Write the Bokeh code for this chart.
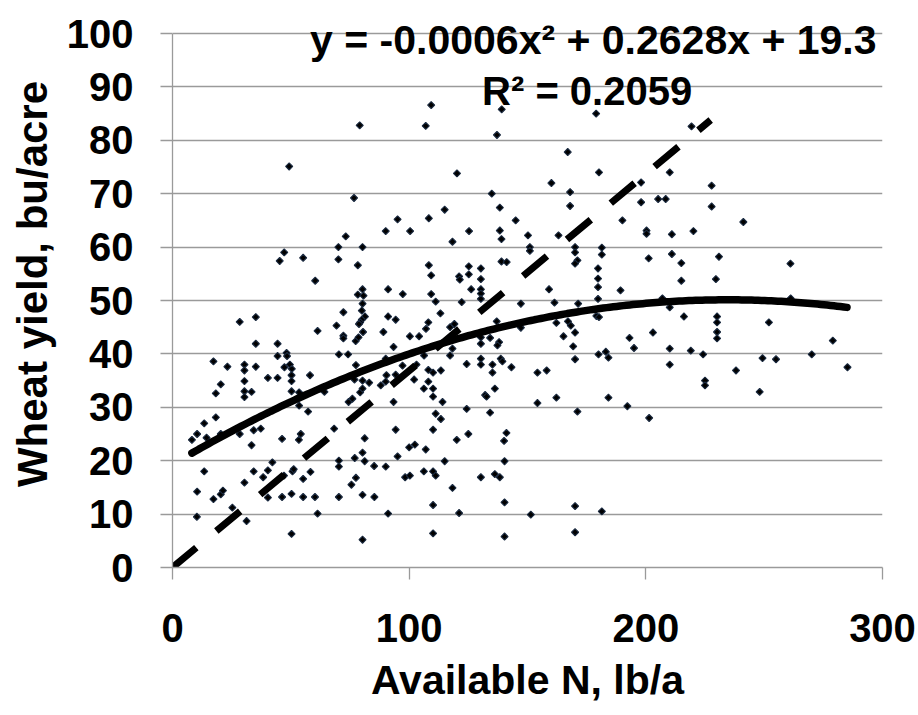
import numpy as np
from bokeh.plotting import figure
from bokeh.models import Label, FixedTicker, Range1d
from bokeh.embed import file_html
from bokeh.resources import INLINE

# ---- data ----
n_avail = [
    49.3, 76.7, 73.2, 70.1, 70.1, 47.2, 45.3, 55.2, 60.3, 78.3,
    79.1, 109.3, 107.0, 139.1, 137.1, 120.2, 134.9, 138.3, 115.0, 95.1,
    108.3, 145.0, 90.1, 100.4, 125.3, 138.3, 139.0, 150.2, 118.3, 80.3,
    151.0, 151.0, 108.3, 109.3, 139.0, 141.2, 121.1, 121.4, 125.2, 125.2,
    130.3, 130.3, 126.2, 130.3, 130.3, 130.3, 80.3, 78.3, 80.7, 91.1,
    97.3, 109.3, 111.2, 122.2, 147.2, 80.3,
    179.0, 219.3, 167.0, 180.2, 210.1, 160.1, 168.0, 198.0, 227.8, 168.0,
    198.0, 205.2, 208.4, 227.8, 190.1, 163.1, 200.3, 200.3, 211.0, 220.1,
    170.1, 170.1, 171.1, 170.1, 181.4, 181.4, 201.2, 211.0, 215.0, 179.8,
    179.8, 179.8, 179.8, 159.1, 161.4, 171.4, 189.3, 215.0, 229.6, 207.0,
    241.2, 230.9, 261.1, 261.2,
    28.4, 35.2, 35.2, 44.4, 44.4, 48.2, 48.4, 47.3, 49.6, 50.4,
    17.3, 23.2, 30.4, 30.4, 35.2, 20.4, 18.3, 30.4, 30.4, 30.4,
    33.4, 40.3, 44.4, 50.3, 50.3, 58.1, 50.3, 53.5, 61.3, 69.3,
    72.2, 72.2, 72.2, 70.3, 74.2, 77.5, 76.9, 74.4, 76.0, 64.2,
    53.5, 57.3, 18.3, 13.4, 10.4, 8.2, 14.4, 20.4, 28.4, 34.3,
    37.3, 33.4, 46.3, 53.4, 54.2, 68.3, 77.0, 70.3, 70.3, 77.5,
    75.6, 13.4, 10.4, 17.3, 20.4, 21.3, 30.4, 34.3, 38.3, 40.3,
    42.2, 47.1, 50.7, 51.2, 55.2, 58.3, 40.3, 46.3, 50.3, 55.2,
    60.2, 70.3, 10.3, 25.3, 31.3, 61.3, 50.3,
    80.0, 81.3, 80.0, 79.3, 78.8, 91.1, 94.3, 108.1, 107.1, 113.2,
    117.3, 119.1, 137.0, 147.2, 89.1, 100.3, 104.2, 80.5, 77.4, 78.6,
    93.4, 106.3, 118.3, 117.3, 130.3, 134.2, 130.3, 138.0, 137.3, 90.1,
    90.4, 94.3, 97.2, 103.1, 102.1, 108.1, 110.1, 113.4, 108.1, 106.2,
    110.1, 110.1, 114.1, 80.3, 83.1, 88.0, 90.1, 79.3, 80.3, 93.4,
    124.3, 130.3, 130.3, 135.2, 135.2, 138.7, 139.4, 143.2, 136.2, 132.1,
    132.7, 124.3, 134.2, 111.2, 113.4, 110.1, 94.3, 81.2, 120.1, 125.0,
    141.1, 140.1, 100.0, 102.4, 107.0, 80.3, 81.2, 95.1, 85.2, 90.1,
    115.0, 140.3, 106.2, 110.1, 111.2, 98.3, 100.3, 130.3, 136.2, 138.3,
    118.3, 80.3, 85.3, 110.1, 140.3, 91.1, 121.1, 151.4, 80.3, 110.1,
    140.3,
    210.1, 216.1, 162.2, 167.1, 168.3, 170.1, 165.2, 169.3, 170.1, 179.1,
    180.2, 180.0, 183.1, 184.2, 193.1, 195.0, 203.0, 210.1, 210.1, 219.0,
    224.2, 225.0, 225.0, 154.2, 158.1, 154.2, 162.2, 171.1, 184.2, 192.2,
    201.4, 170.1, 181.4, 170.1,
    230.1, 230.1, 230.1, 230.1, 252.0, 279.0, 238.1, 249.3, 255.0, 248.1,
    270.1, 285.2,
]
yield_bu = [
    75.1, 69.2, 62.0, 60.0, 57.7, 59.0, 57.4, 58.0, 53.7, 56.6,
    82.8, 86.6, 82.7, 85.8, 81.0, 73.8, 70.0, 67.4, 67.0, 65.2,
    65.4, 65.0, 63.0, 63.0, 63.0, 63.1, 61.5, 62.2, 61.0, 60.0,
    60.0, 59.3, 56.6, 54.7, 57.3, 57.2, 54.5, 53.9, 56.4, 54.9,
    56.0, 54.0, 52.1, 52.1, 51.3, 50.3, 52.1, 51.1, 50.9, 52.1,
    51.2, 51.2, 49.8, 49.7, 49.4, 49.4,
    85.0, 82.6, 77.8, 74.0, 74.0, 72.0, 70.3, 72.1, 71.5, 67.7,
    68.4, 69.0, 69.0, 67.6, 65.0, 62.2, 63.1, 62.5, 62.4, 63.0,
    60.0, 59.0, 57.5, 56.9, 59.9, 58.6, 57.9, 58.7, 57.0, 56.0,
    54.1, 52.5, 50.3, 52.1, 49.6, 49.4, 51.9, 53.7, 54.0, 50.4,
    64.7, 58.2, 56.9, 50.4,
    46.0, 46.9, 41.9, 41.9, 39.6, 40.2, 39.6, 37.5, 38.0, 37.2,
    38.6, 37.6, 38.0, 36.9, 37.6, 34.3, 32.6, 34.9, 33.0, 31.9,
    32.9, 35.5, 35.5, 36.0, 34.9, 36.0, 33.0, 32.8, 44.3, 45.3,
    47.8, 43.4, 42.9, 39.9, 39.9, 37.9, 35.2, 31.0, 31.6, 32.9,
    30.3, 29.2, 28.1, 27.0, 25.0, 23.9, 24.3, 25.0, 25.0, 25.7,
    26.0, 22.9, 24.1, 23.9, 25.0, 26.0, 20.5, 20.0, 18.9, 16.8,
    15.5, 18.0, 14.2, 12.8, 13.7, 14.4, 15.9, 18.0, 16.9, 18.2,
    19.7, 17.2, 18.0, 18.4, 16.6, 17.9, 13.1, 13.2, 13.8, 13.2,
    13.2, 13.2, 9.5, 11.2, 8.7, 10.1, 6.3,
    48.1, 47.0, 46.4, 45.9, 45.6, 47.0, 46.4, 45.9, 44.7, 47.6,
    45.0, 45.6, 46.1, 44.9, 44.1, 43.3, 43.3, 44.1, 42.4, 43.1,
    41.3, 39.7, 41.0, 39.7, 43.1, 43.0, 41.9, 42.2, 41.6, 39.1,
    36.0, 36.1, 37.8, 38.0, 35.2, 37.0, 36.5, 36.9, 34.8, 33.5,
    33.5, 32.0, 31.0, 35.0, 34.6, 34.1, 34.8, 32.8, 33.5, 31.0,
    38.1, 39.1, 38.0, 38.0, 36.5, 39.1, 38.6, 37.5, 33.5, 32.3,
    32.0, 29.7, 29.0, 28.8, 27.8, 25.8, 25.8, 24.2, 23.9, 25.0,
    25.2, 23.7, 22.5, 23.0, 22.1, 21.5, 19.9, 20.8, 19.0, 18.9,
    19.9, 19.9, 18.0, 18.0, 17.2, 16.9, 17.2, 16.9, 17.5, 16.9,
    14.9, 13.6, 13.2, 11.7, 12.2, 10.1, 10.2, 9.9, 5.2, 6.4,
    5.8,
    48.7, 47.0, 45.8, 46.1, 45.3, 44.0, 43.3, 41.4, 39.0, 47.1,
    46.9, 39.9, 40.4, 39.3, 43.0, 41.1, 44.0, 41.0, 38.0, 40.6,
    39.9, 35.0, 34.1, 36.5, 36.9, 30.8, 31.8, 29.2, 31.8, 30.2,
    28.0, 11.5, 10.5, 6.6,
    47.0, 45.9, 44.1, 42.9, 45.9, 42.5, 36.9, 39.2, 39.0, 32.9,
    39.9, 37.5,
]

# quadratic trendline coefficients (a, b, c) and its x extent
trend_coef = [-0.00056, 0.2628, 19.3]
trend_span = [8.2, 285.0]
# dashed reference line end points
ref_n = [0.0, 227.4]
ref_y = [0.0, 83.8]

x_ticks = [0, 100, 200, 300]
y_ticks = [0, 10, 20, 30, 40, 50, 60, 70, 80, 90, 100]

eq_text = "y = -0.0006x\u00b2 + 0.2628x + 19.3"
r2_text = "R\u00b2 = 0.2059"

FONT = "Liberation Sans"

# frame: x 0..300 spans px 172..882, y 0..100 spans px 567..33;
# frame top is the canvas top so the equation text is never clipped
p = figure(width=918, height=715, output_backend="svg", toolbar_location=None,
           x_range=Range1d(0, 300), y_range=Range1d(0, 567 / 5.34),
           min_border_left=172, min_border_right=36, min_border_top=0,
           min_border_bottom=148)
p.outline_line_color = None
p.background_fill_color = "white"
p.border_fill_color = "white"

for ax in (p.xaxis[0], p.yaxis[0]):
    ax.axis_line_color = "#9a9a9a"
    ax.axis_line_width = 1.3
    ax.major_tick_line_color = "#9a9a9a"
    ax.major_tick_line_width = 1.3
    ax.major_tick_in = 0
    ax.major_tick_out = 12
    ax.minor_tick_line_color = None
    ax.major_label_text_font = FONT
    ax.major_label_text_font_style = "bold"
    ax.major_label_text_font_size = "40px"
    ax.major_label_text_color = "black"
    ax.axis_label_text_font = FONT
    ax.axis_label_text_font_style = "bold"
    ax.axis_label_text_color = "black"

p.xaxis.ticker = FixedTicker(ticks=x_ticks)
p.yaxis.ticker = FixedTicker(ticks=y_ticks)
p.yaxis.bounds = (0, 100)
p.xaxis.axis_label = "Available N, lb/a"
p.yaxis.axis_label = "Wheat yield, bu/acre"
p.xaxis.axis_label_text_font_size = "41px"
p.yaxis.axis_label_text_font_size = "42px"
p.xaxis.major_label_standoff = 34
p.yaxis.major_label_standoff = 27
p.xaxis.axis_label_standoff = 12
p.yaxis.axis_label_standoff = 8

p.xgrid.grid_line_color = None
p.ygrid.grid_line_color = "#9a9a9a"
p.ygrid.grid_line_width = 1.3

# scatter
p.scatter(n_avail, yield_bu, marker="square", angle=np.pi / 4, size=5,
          fill_color="black", line_color="#1a2a40", line_width=1.1)

# dashed reference line
p.line(ref_n, ref_y, line_color="black", line_width=7, line_dash="31 26",
       line_cap="butt")

# trendline
tx = np.linspace(trend_span[0], trend_span[1], 200)
ty = np.polyval(trend_coef, tx)
p.line(tx, ty, line_color="black", line_width=7.5, line_cap="round")

# equation text
p.add_layout(Label(x=177.8, y=98.7, text=eq_text, text_align="center",
                   text_baseline="alphabetic", text_font=FONT,
                   text_font_style="bold", text_font_size="41px",
                   text_color="black"))
p.add_layout(Label(x=175.2, y=89.3, text=r2_text, text_align="center",
                   text_baseline="alphabetic", text_font=FONT,
                   text_font_style="bold", text_font_size="40px",
                   text_color="black"))

open("out.html", "w").write(file_html(p, INLINE))
